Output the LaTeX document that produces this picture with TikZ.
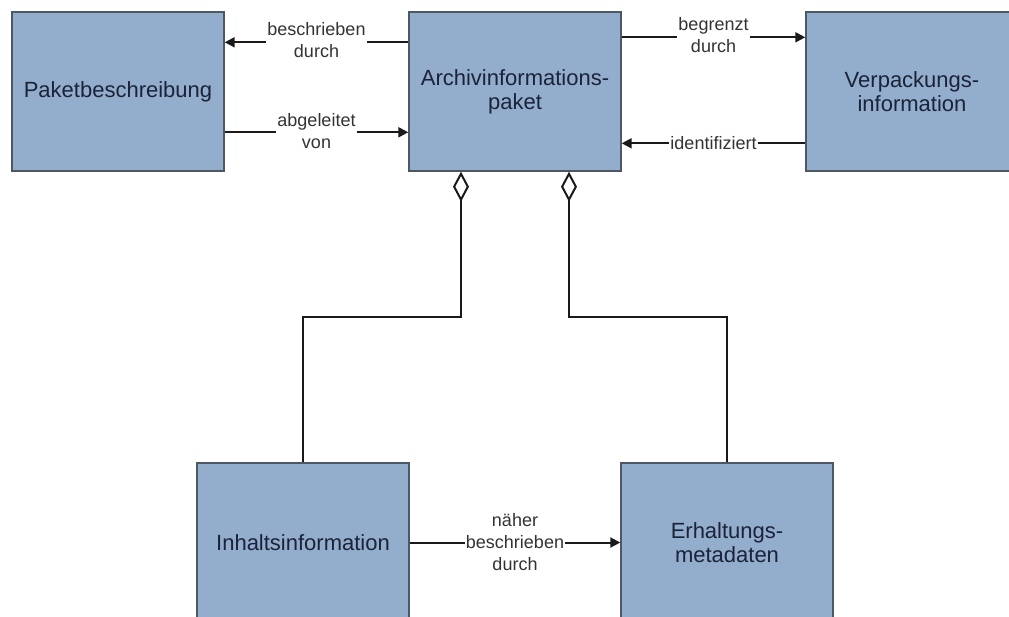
\documentclass[tikz,border=0pt]{standalone}
\usepackage{fontspec}
\setmainfont{Liberation Sans}
\usetikzlibrary{arrows.meta}

\definecolor{boxfill}{HTML}{93ADCD}
\definecolor{boxline}{HTML}{4E5864}
\definecolor{boxtext}{HTML}{1B2338}
\definecolor{linkcol}{HTML}{1A1A1A}
\definecolor{labtext}{HTML}{333333}

\tikzset{
  entity/.style={draw=boxline, line width=1.4pt, fill=boxfill,
    minimum width=212pt, minimum height=159pt, inner sep=0pt,
    text=boxtext, align=center,
    font=\fontsize{22}{24}\selectfont},
  link/.style={draw=linkcol, line width=2pt,
    -{Triangle[length=10pt,width=10pt]}},
  agg/.style={draw=linkcol, line width=2pt,
    {Diamond[open,length=30pt,width=16pt,line width=2pt]}-},
  lab/.style={fill=white, inner sep=1pt, text=labtext, align=center,
    font=\fontsize{18}{22}\selectfont}
}

\begin{document}
\begin{tikzpicture}[x=1pt,y=1pt]
  \useasboundingbox (0,0) rectangle (1009,-616);
  \fill[white] (0,0) rectangle (1009,-616);

  % entities
  \node[entity] (paket)  at (118,-91.5)  {Paketbeschreibung};
  \node[entity] (archiv) at (515,-91.5)  {Archivinformations-\\paket};
  \node[entity] (verp)   at (912,-91.5)  {Verpackungs-\\information};
  \node[entity] (inhalt) at (303,-542.5) {Inhaltsinformation};
  \node[entity] (erhalt) at (727,-542.5) {Erhaltungs-\\metadaten};

  % relations in the top row
  \draw[link] ([yshift=-31pt]archiv.north west) -- ([yshift=-31pt]paket.north east)
    node[lab, midway, yshift=2pt] {beschrieben\\durch};
  \draw[link] ([yshift=-121pt]paket.north east) -- ([yshift=-121pt]archiv.north west)
    node[lab, midway, yshift=1pt] {abgeleitet\\von};
  \draw[link] ([yshift=-26pt]archiv.north east) -- ([yshift=-26pt]verp.north west)
    node[lab, midway, yshift=2pt] {begrenzt\\durch};
  \draw[link] ([yshift=-132pt]verp.north west) -- ([yshift=-132pt]archiv.north east)
    node[lab, midway] {identifiziert};

  % aggregation links
  \draw[agg] ([xshift=-54pt]archiv.south) -- ++(0pt,-145pt) -| (inhalt.north);
  \draw[agg] ([xshift=54pt]archiv.south) -- ++(0pt,-145pt) -| (erhalt.north);

  % relation in the bottom row
  \draw[link] (inhalt.east) -- (erhalt.west)
    node[lab, midway] {näher\\beschrieben\\durch};
\end{tikzpicture}
\end{document}
